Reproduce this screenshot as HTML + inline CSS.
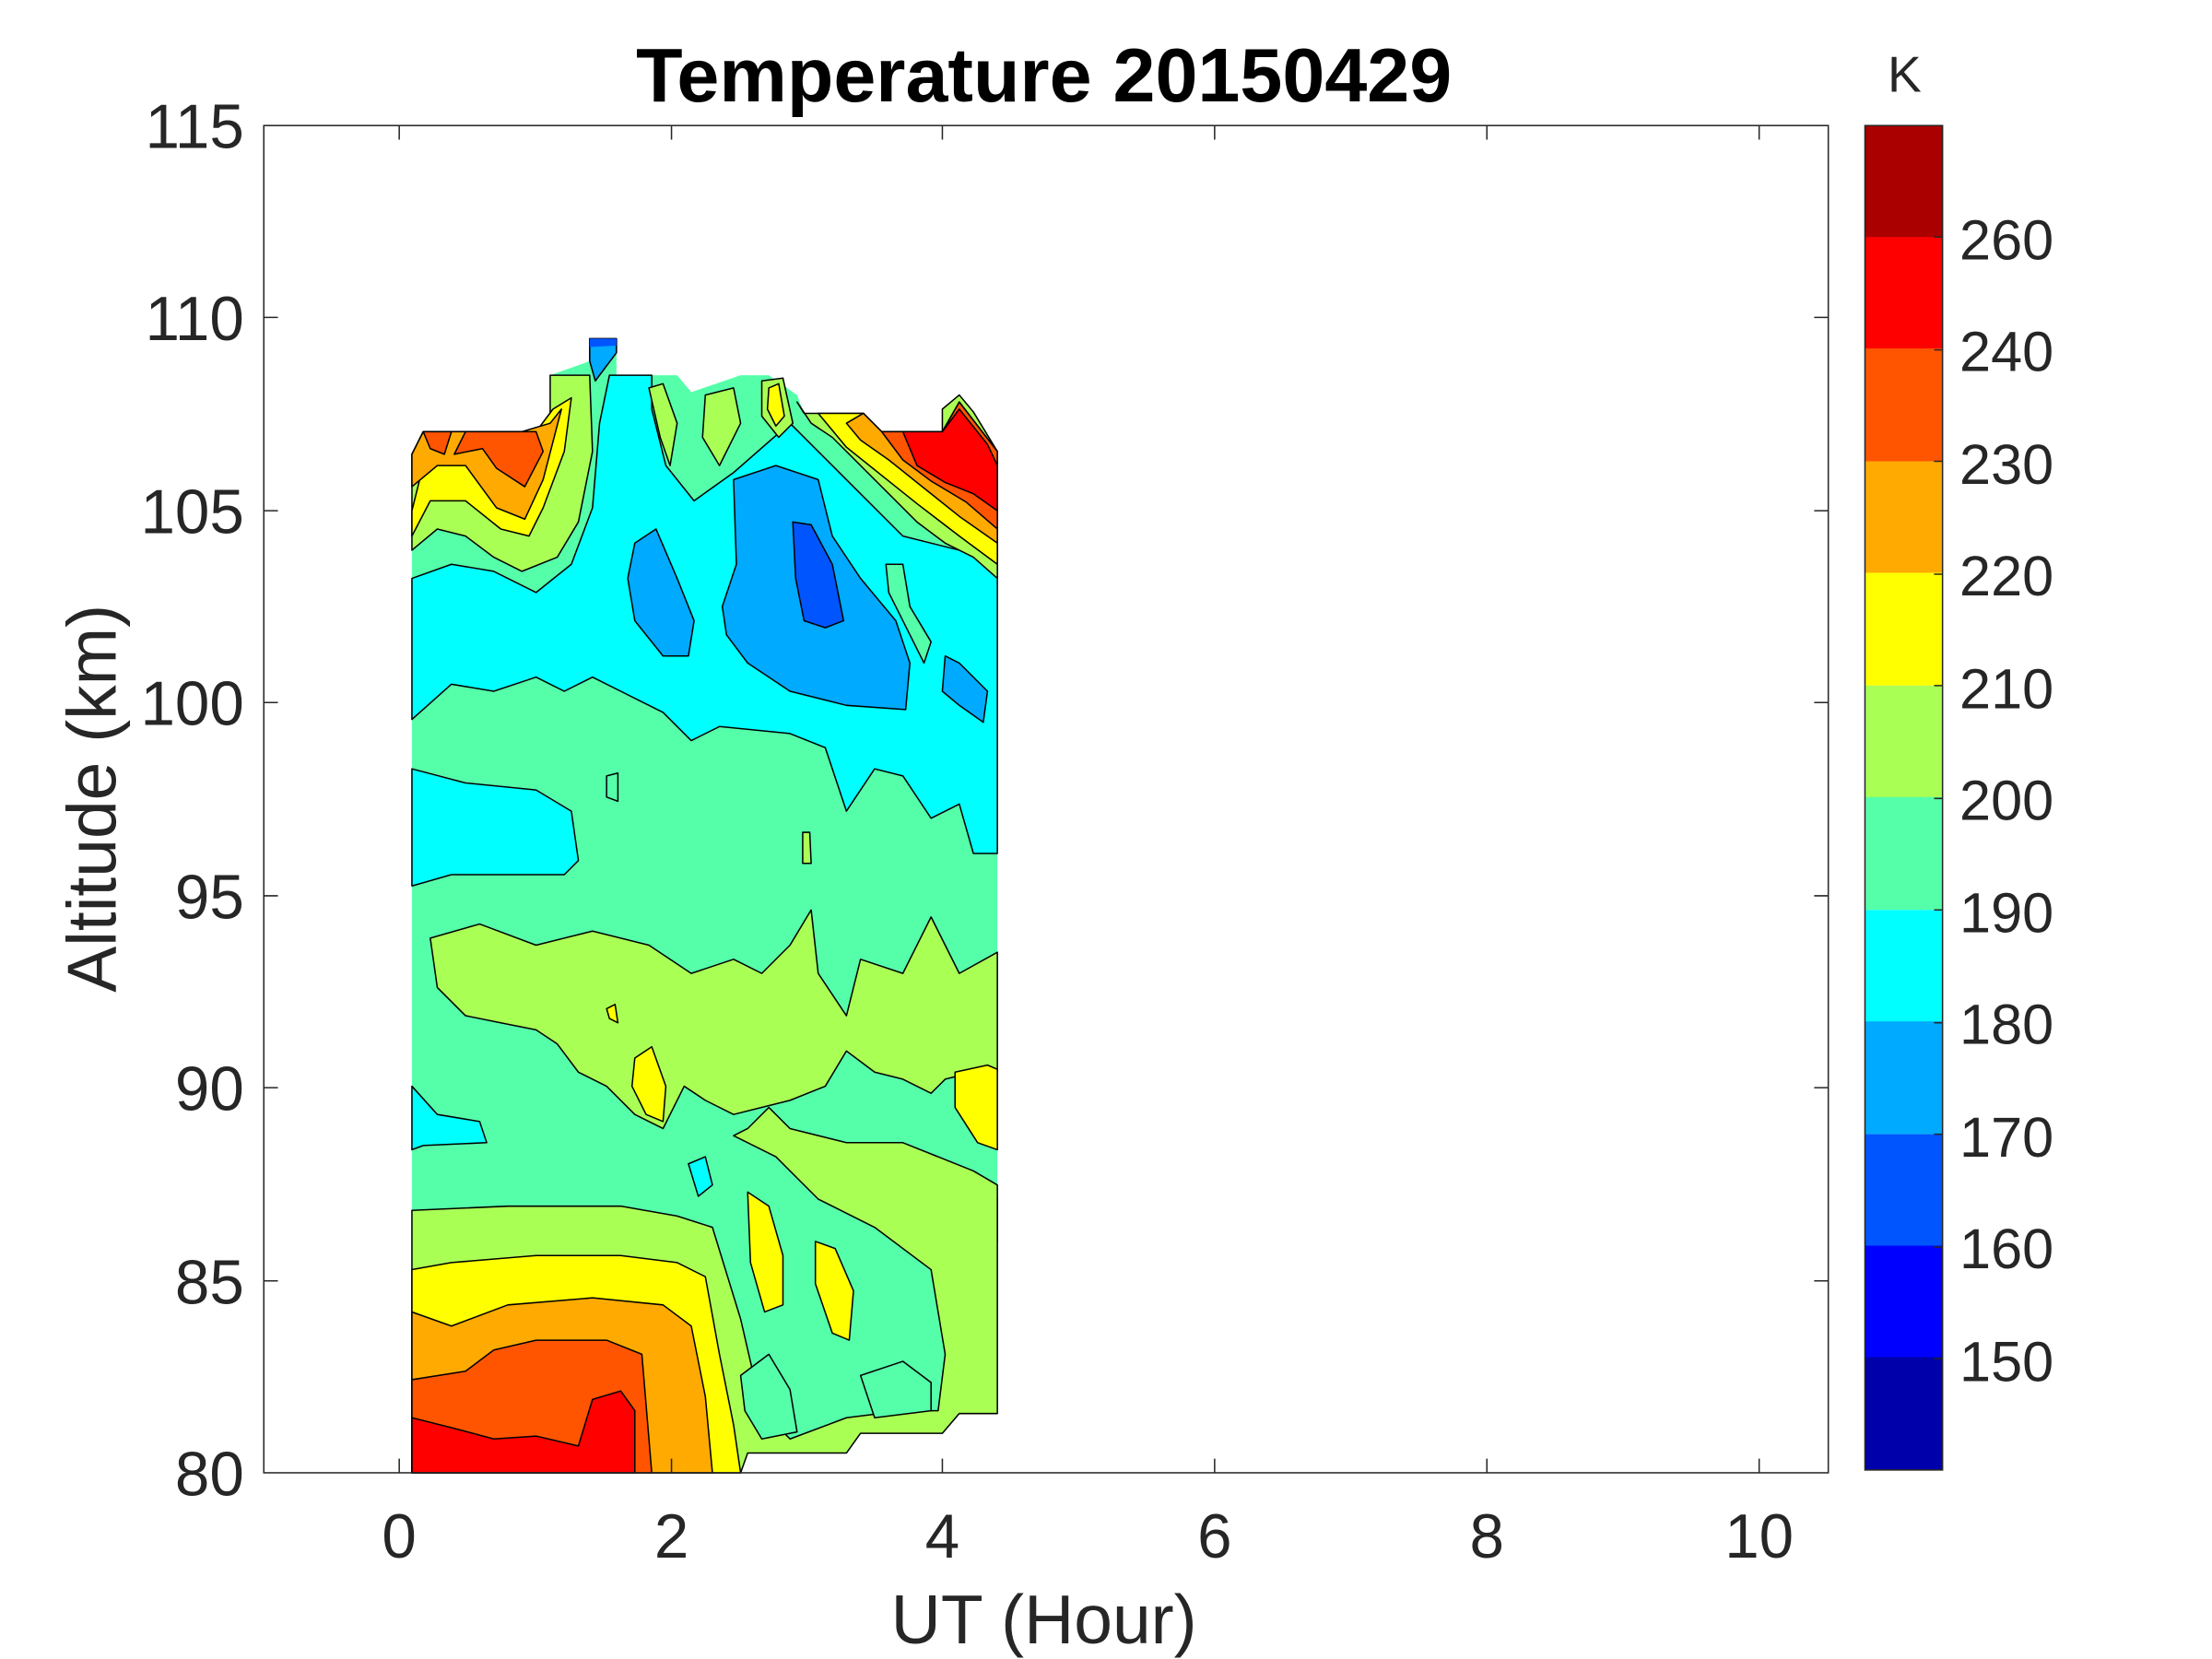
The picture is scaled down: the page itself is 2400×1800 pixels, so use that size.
<!DOCTYPE html>
<html><head><meta charset="utf-8"><style>html,body{margin:0;padding:0;background:#fff}svg{display:block}</style></head>
<body>
<svg width="2400" height="1800" viewBox="0 0 1568 1176" preserveAspectRatio="none" xmlns="http://www.w3.org/2000/svg" font-family="Liberation Sans, Arial, sans-serif">
<rect width="1568" height="1176" fill="#fff"/>
<g stroke="#000" stroke-width="1" stroke-linejoin="round">
<polygon fill="#55ffaa" stroke="none" points="292,322 300,306 382,306 390,300 390,266 418,256 418,240 437,240 437,266 480,266 490,278 525,266 545,266 565,280 570,293 612,293 625,306 668,306 668,290 680,280 690,292 707,320 707,1002 680,1002 668,1016 610,1016 600,1030 530,1030 525,1044 292,1044"/>
<polygon fill="#00ffff" points="292,410 320,400 350,405 380,420 405,400 420,360 425,300 432,266 462,266 462,290 472,330 492,355 520,335 560,300 600,340 640,380 680,390 707,400 707,605 690,605 680,570 660,580 640,550 620,545 600,575 585,530 560,520 510,515 490,525 470,505 440,490 420,480 400,490 380,480 350,490 320,485 292,510"/>
<polygon fill="#00ffff" points="292,545 330,555 380,560 405,575 410,610 400,620 360,620 320,620 292,628"/>
<polygon fill="#00ffff" points="292,770 310,790 340,795 345,810 300,812 292,815"/>
<polygon fill="#00ffff" points="585,820 620,815 660,825 690,840 707,850 707,880 690,865 670,850 640,840 600,840"/>
<polygon fill="#00ffff" points="488,825 500,820 505,840 495,848"/>
<polygon fill="#00ffff" points="668,1002 680,990 695,1002"/>
<polygon fill="#55ffaa" points="628,400 640,400 645,430 660,455 655,470 640,440 630,420"/>
<polygon fill="#00aaff" points="450,385 465,375 480,410 492,440 488,465 470,465 450,440 445,410"/>
<polygon fill="#00aaff" points="520,340 550,330 580,340 590,380 610,410 635,440 645,470 642,503 600,500 560,490 530,470 515,450 512,430 522,400"/>
<polygon fill="#00aaff" points="670,465 680,470 700,490 697,512 680,500 668,490"/>
<polygon fill="#00aaff" points="418,240 437,240 437,250 428,262 422,270 418,256"/>
<polygon fill="#0055ff" points="562,370 575,372 590,400 598,440 585,445 570,440 564,410"/>
<polygon fill="#0055ff" stroke="none" points="418,240 437,240 437,245 418,246"/>
<polygon fill="#aaff55" points="292,390 310,375 330,380 350,395 370,405 395,395 410,370 420,320 418,266 390,266 390,300 382,306 300,306 292,322"/>
<polygon fill="#ffff00" points="292,362 300,330 305,306 380,306 392,290 405,282 400,320 385,360 375,380 355,375 330,355 305,355 292,380"/>
<polygon fill="#ffaa00" points="292,322 300,306 370,306 390,300 398,290 385,340 372,368 352,360 330,330 310,330 292,345"/>
<polygon fill="#ff5500" points="330,306 380,306 385,320 372,345 352,332 342,318 322,322"/>
<polygon fill="#ff5500" points="300,306 320,306 315,322 305,318"/>
<polygon fill="#aaff55" points="460,275 470,272 480,300 475,330 468,310"/>
<polygon fill="#aaff55" points="500,280 520,275 525,300 510,330 498,310"/>
<polygon fill="#aaff55" points="540,270 555,268 562,300 552,310 540,295"/>
<polygon fill="#ffff00" points="545,275 552,272 556,295 550,302 544,290"/>
<polygon fill="#aaff55" points="565,285 570,293 612,293 625,306 668,306 668,290 680,280 690,292 707,320 707,410 690,395 670,385 650,370 630,350 610,330 590,310 575,300"/>
<polygon fill="#ffff00" points="580,293 612,293 625,306 668,306 680,285 707,320 707,400 680,380 650,357 625,337 600,317"/>
<polygon fill="#ffaa00" points="600,300 612,293 625,306 668,306 680,285 707,320 707,385 680,366 655,346 630,326 610,312"/>
<polygon fill="#ff5500" points="625,306 668,306 680,285 707,320 707,375 685,356 660,341 640,326"/>
<polygon fill="#ff0000" points="640,306 668,306 680,290 700,315 707,330 707,362 690,350 670,342 650,330"/>
<polygon fill="#aaff55" points="305,665 340,655 380,670 420,660 460,670 490,690 520,680 540,690 560,670 575,645 580,690 600,720 610,680 640,690 660,650 680,690 707,675 707,760 690,760 670,765 660,775 640,765 620,760 600,745 585,770 560,780 540,785 520,790 500,780 485,770 470,800 450,790 430,770 410,760 395,740 380,730 355,725 330,720 310,700"/>
<polygon fill="#aaff55" points="292,858 360,855 440,855 480,862 505,870 525,935 540,1000 560,1020 600,1005 640,1000 665,1000 670,960 660,900 620,870 580,850 550,820 520,805 530,800 545,785 560,800 600,810 640,810 690,830 707,840 707,1002 680,1002 668,1016 610,1016 600,1030 530,1030 525,1044 292,1044"/>
<polygon fill="#55ffaa" points="525,975 545,960 560,985 565,1015 540,1020 528,1000"/>
<polygon fill="#55ffaa" points="610,975 640,965 660,980 660,1000 620,1005"/>
<polygon fill="#ffff00" points="292,900 320,895 380,890 440,890 480,895 500,905 510,960 520,1010 525,1044 292,1044"/>
<polygon fill="#ffaa00" points="292,930 320,940 360,925 420,920 470,925 490,940 500,990 505,1044 292,1044"/>
<polygon fill="#ff5500" points="292,978 330,972 350,957 380,950 430,950 455,960 462,1044 292,1044"/>
<polygon fill="#ff0000" points="292,1005 320,1012 350,1020 380,1018 410,1025 420,992 440,986 450,1000 450,1044 292,1044"/>
<polygon fill="#ffff00" points="450,750 462,742 472,770 470,795 458,790 448,770"/>
<polygon fill="#ffff00" points="530,845 545,855 555,890 555,925 542,930 532,895"/>
<polygon fill="#ffff00" points="578,880 592,885 605,915 602,950 590,945 578,910"/>
<polygon fill="#ffff00" points="677,760 700,755 707,758 707,815 693,810 677,785"/>
<polygon fill="#ffff00" points="430,715 436,712 438,725 432,722"/>
<polygon fill="#55ffaa" points="430,550 438,548 438,568 430,565"/>
<polygon fill="#aaff55" points="569,590 574,590 575,612 569,612"/>
</g>
<rect x="187" y="89" width="1109" height="955" fill="none" stroke="#262626" stroke-width="1"/>
<g stroke="#262626" stroke-width="1">
<path d="M283,1044v-10M476,1044v-10M668,1044v-10M861,1044v-10M1054,1044v-10M1247,1044v-10M283,89v10M476,89v10M668,89v10M861,89v10M1054,89v10M1247,89v10"/>
<path d="M187,89h10M187,225h10M187,362h10M187,498h10M187,635h10M187,771h10M187,908h10M1296,89h-10M1296,225h-10M1296,362h-10M1296,498h-10M1296,635h-10M1296,771h-10M1296,908h-10"/>
</g>
<g font-size="44" fill="#262626" text-anchor="middle">
<text x="283" y="1104">0</text><text x="476" y="1104">2</text><text x="668" y="1104">4</text><text x="861" y="1104">6</text><text x="1054" y="1104">8</text><text x="1247" y="1104">10</text>
</g>
<g font-size="44" fill="#262626" text-anchor="end">
<text x="173" y="105">115</text><text x="173" y="241">110</text><text x="173" y="378">105</text><text x="173" y="514">100</text><text x="173" y="651">95</text><text x="173" y="787">90</text><text x="173" y="924">85</text><text x="173" y="1060">80</text>
</g>
<text x="740" y="1165" font-size="49" fill="#262626" text-anchor="middle">UT (Hour)</text>
<text transform="translate(82,566) rotate(-90)" font-size="49" fill="#262626" text-anchor="middle">Altitude (km)</text>
<text x="740" y="72" font-size="54" font-weight="bold" fill="#000" text-anchor="middle">Temperature 20150429</text>
<g>
<rect x="1322" y="89" width="55" height="80" fill="#aa0000"/>
<rect x="1322" y="168" width="55" height="80" fill="#ff0000"/>
<rect x="1322" y="247" width="55" height="80" fill="#ff5500"/>
<rect x="1322" y="327" width="55" height="80" fill="#ffaa00"/>
<rect x="1322" y="406" width="55" height="80" fill="#ffff00"/>
<rect x="1322" y="486" width="55" height="80" fill="#aaff55"/>
<rect x="1322" y="565" width="55" height="80" fill="#55ffaa"/>
<rect x="1322" y="645" width="55" height="80" fill="#00ffff"/>
<rect x="1322" y="724" width="55" height="80" fill="#00aaff"/>
<rect x="1322" y="804" width="55" height="80" fill="#0055ff"/>
<rect x="1322" y="883" width="55" height="80" fill="#0000ff"/>
<rect x="1322" y="962" width="55" height="80" fill="#0000aa"/>
<rect x="1322" y="89" width="55" height="953" fill="none" stroke="#262626" stroke-width="1"/>
<path d="M1377,168h-6M1377,248h-6M1377,327h-6M1377,407h-6M1377,486h-6M1377,566h-6M1377,645h-6M1377,725h-6M1377,804h-6M1377,884h-6M1377,963h-6" stroke="#262626"/>
</g>
<g font-size="40" fill="#262626">
<text x="1389" y="184">260</text><text x="1389" y="263">240</text><text x="1389" y="343">230</text><text x="1389" y="422">220</text><text x="1389" y="502">210</text><text x="1389" y="581">200</text><text x="1389" y="661">190</text><text x="1389" y="740">180</text><text x="1389" y="820">170</text><text x="1389" y="899">160</text><text x="1389" y="979">150</text>
</g>
<text x="1350" y="65" font-size="36" fill="#262626" text-anchor="middle">K</text>
</svg>
</body></html>
